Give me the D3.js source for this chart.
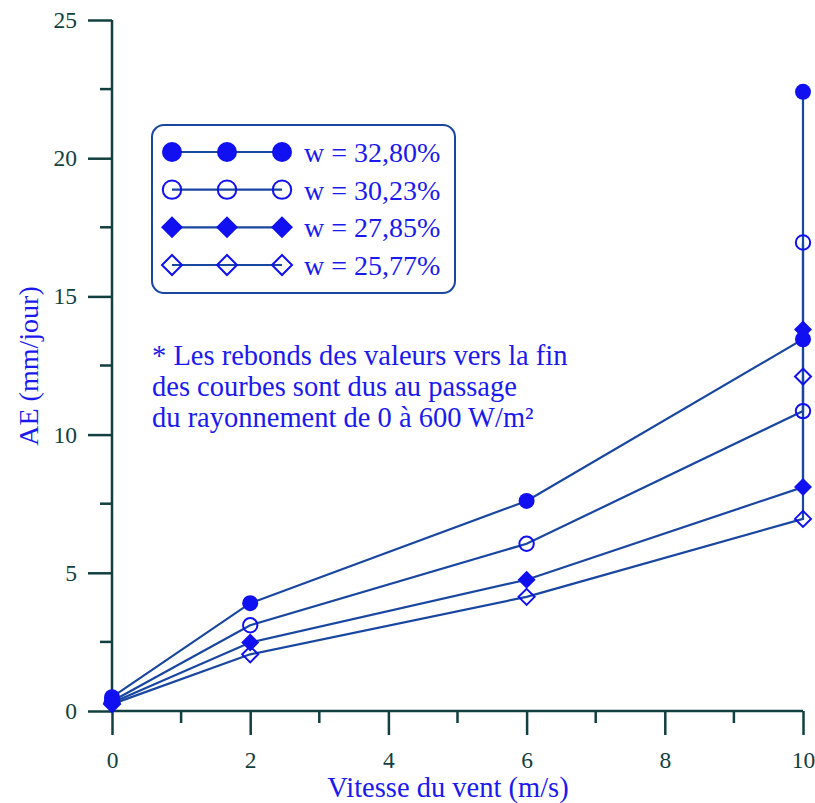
<!DOCTYPE html>
<html>
<head>
<meta charset="utf-8">
<script src="https://cdn.jsdelivr.net/npm/d3@7"></script>
<style>
  body { margin: 0; background: #fff; }
  svg { display: block; }
  svg text { font-family: "Liberation Serif", "Times New Roman", serif; }
</style>
</head>
<body>
<div id="chart"></div>
<script>
// wind speed (m/s), the last point is repeated: rebound at x = 10
const windSpeed = [0, 2, 6, 10, 10];
const seriesNames = ['w = 32,80%', 'w = 30,23%', 'w = 27,85%', 'w = 25,77%'];
const w3280 = [0.5, 3.9, 7.6, 13.45, 22.4];
const w3023 = [0.35, 3.1, 6.05, 10.85, 16.95];
const w2785 = [0.3, 2.48, 4.75, 8.1, 13.8];
const w2577 = [0.25, 2.05, 4.13, 6.95, 12.1];
const markerTypes = ['circleFilled', 'circleOpen', 'diamondFilled', 'diamondOpen'];
const xTicks = [0, 2, 4, 6, 8, 10];
const yTicks = [0, 5, 10, 15, 20, 25];
const noteLines = [
    '* Les rebonds des valeurs vers la fin',
    'des courbes sont dus au passage',
    'du rayonnement de 0 à 600 W/m²'
];

const allSeries = [w3280, w3023, w2785, w2577];

const width = 815, height = 803;
const axisColor = '#123f3f';
const lineColor = '#1846a0';
const markColor = '#1010f0';
const textColor = '#1a1aee';

const svg = d3.select('#chart').append('svg')
    .attr('width', width)
    .attr('height', height);

const x = d3.scaleLinear().domain([0, 10]).range([112, 803]);
const y = d3.scaleLinear().domain([0, 25]).range([711, 20]);

// axes
const xAxis = svg.append('g').attr('transform', `translate(0,${y(0)})`)
    .call(d3.axisBottom(x).tickValues(xTicks).tickSize(24).tickPadding(16).tickFormat(d3.format('d')));
xAxis.append('g').selectAll('line')
    .data(d3.range(1, 10, 2))
    .enter().append('line')
    .attr('x1', d => x(d)).attr('x2', d => x(d))
    .attr('y1', 0).attr('y2', 12);

const yAxis = svg.append('g').attr('transform', `translate(${x(0)},0)`)
    .call(d3.axisLeft(y).tickValues(yTicks).tickSize(24).tickPadding(11).tickFormat(d3.format('d')));
yAxis.append('g').selectAll('line')
    .data(d3.range(2.5, 25, 5))
    .enter().append('line')
    .attr('x1', 0).attr('x2', -12)
    .attr('y1', d => y(d)).attr('y2', d => y(d));

[xAxis, yAxis].forEach(g => {
    g.attr('font-family', null).attr('font-size', null);
    g.select('.domain').attr('stroke', axisColor).attr('stroke-width', 2.5);
    g.selectAll('line').attr('stroke', axisColor).attr('stroke-width', 2.5);
    g.selectAll('text').attr('fill', axisColor).style('font-size', '23.5px');
});
xAxis.select('.domain').attr('d', `M${x(0)},0H${x(10)}`);
yAxis.select('.domain').attr('d', `M0,${y(0)}V${y(25)}`);

// axis titles
svg.append('text')
    .attr('x', 448).attr('y', 797)
    .attr('text-anchor', 'middle')
    .style('font-size', '28.5px')
    .attr('fill', textColor)
    .text('Vitesse du vent (m/s)');

svg.append('text')
    .attr('transform', 'translate(38,366) rotate(-90)')
    .attr('text-anchor', 'middle')
    .style('font-size', '28px')
    .attr('fill', textColor)
    .text('AE (mm/jour)');

// marker drawing
function drawMarker(g, type, cx, cy, size) {
    if (type.startsWith('circle')) {
        g.append('circle')
            .attr('cx', cx).attr('cy', cy)
            .attr('r', type === 'circleFilled' ? size : size - 0.8)
            .attr('fill', type === 'circleFilled' ? markColor : 'none')
            .attr('stroke', markColor)
            .attr('stroke-width', type === 'circleFilled' ? 0 : 2);
    } else {
        const s = type === 'diamondFilled' ? size + 1 : size;
        g.append('path')
            .attr('d', `M${cx},${cy - s}L${cx + s},${cy}L${cx},${cy + s}L${cx - s},${cy}Z`)
            .attr('fill', type === 'diamondFilled' ? markColor : 'none')
            .attr('stroke', markColor)
            .attr('stroke-width', type === 'diamondFilled' ? 0 : 2);
    }
}

const line = d3.line().x((d, i) => x(windSpeed[i])).y(d => y(d));

// lines first, then markers
allSeries.forEach(vals => {
    svg.append('path')
        .datum(vals)
        .attr('d', line)
        .attr('fill', 'none')
        .attr('stroke', lineColor)
        .attr('stroke-width', 2.2);
});
allSeries.forEach((vals, si) => {
    const g = svg.append('g');
    vals.forEach((v, i) => drawMarker(g, markerTypes[si], x(windSpeed[i]), y(v), 8));
});

// legend
const legend = svg.append('g');
legend.append('rect')
    .attr('x', 152).attr('y', 125)
    .attr('width', 303).attr('height', 168)
    .attr('rx', 12).attr('ry', 12)
    .attr('fill', 'none')
    .attr('stroke', lineColor)
    .attr('stroke-width', 2);

const legendY = d3.scalePoint().domain(seriesNames).range([152, 265]);
const legendX = [172, 227, 282];
seriesNames.forEach((name, si) => {
    const ly = legendY(name);
    legend.append('line')
        .attr('x1', legendX[0]).attr('x2', legendX[2])
        .attr('y1', ly).attr('y2', ly)
        .attr('stroke', lineColor).attr('stroke-width', 2.2);
    legendX.forEach(lx => drawMarker(legend, markerTypes[si], lx, ly, 10));
    legend.append('text')
        .attr('x', 304).attr('y', ly + 10)
        .style('font-size', '28px')
        .attr('fill', textColor)
        .text(name);
});

// note
svg.append('g').selectAll('text')
    .data(noteLines)
    .enter().append('text')
    .attr('x', 152)
    .attr('y', (d, i) => 365 + i * 31)
    .style('font-size', '28.5px')
    .attr('fill', textColor)
    .text(d => d);
</script>
</body>
</html>
